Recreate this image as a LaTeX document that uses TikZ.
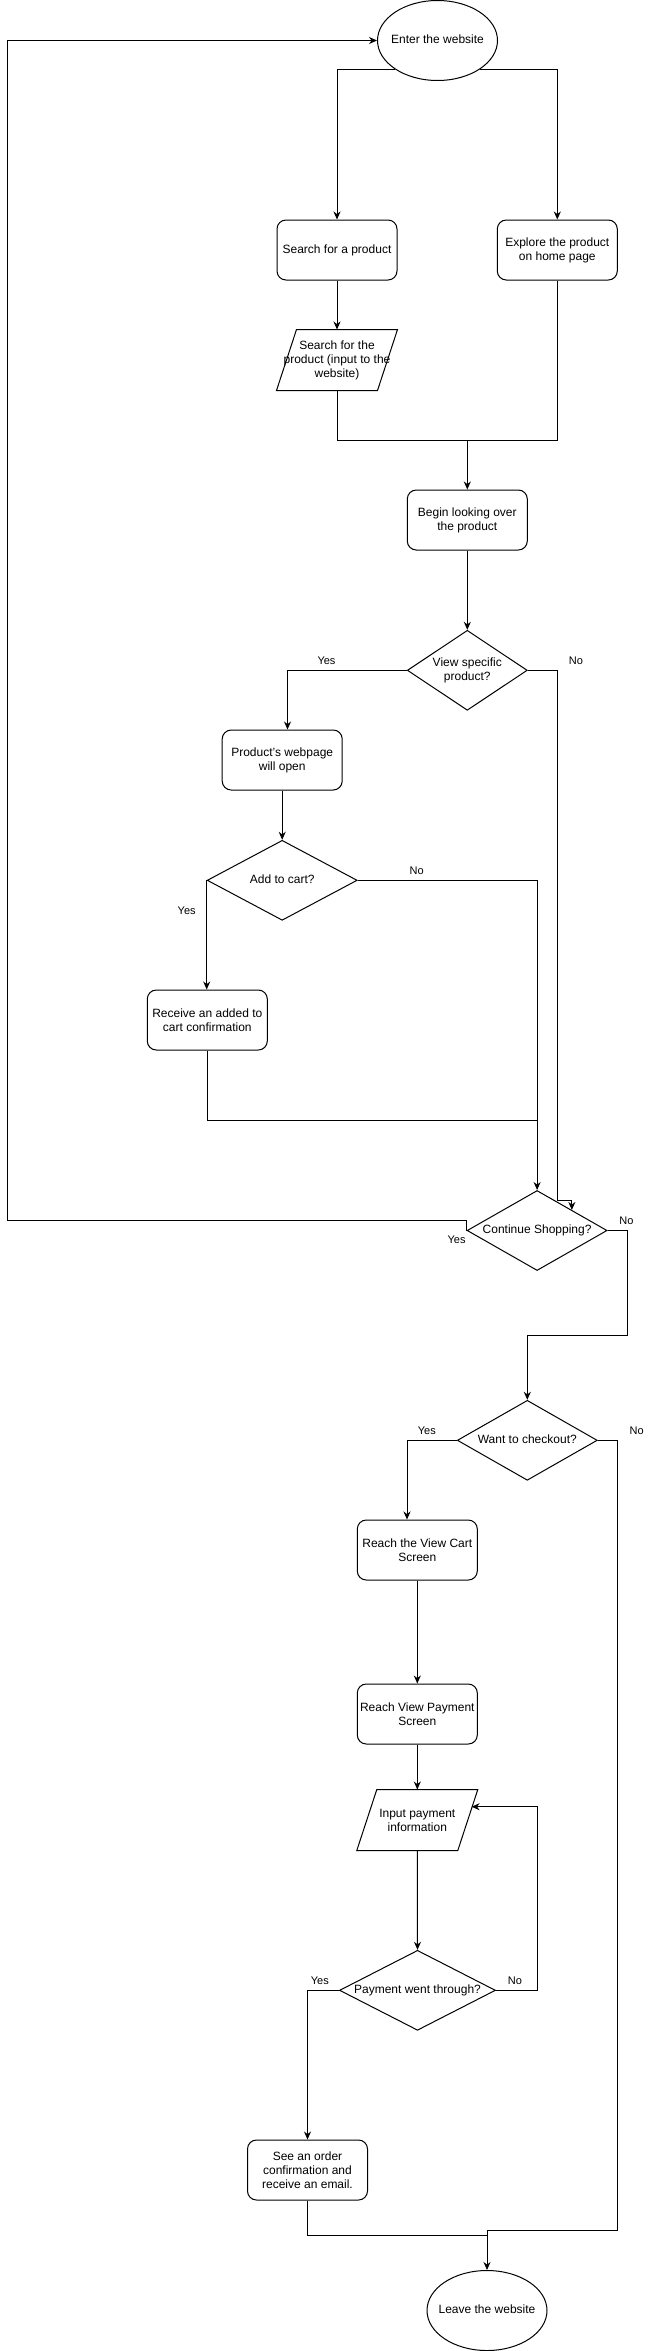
\documentclass[tikz,border=0pt]{standalone}
\usepackage{fontspec}
\setmainfont{Liberation Sans}
\usetikzlibrary{shapes.geometric,arrows.meta,calc}
\newcommand\zb[1]{\makebox[0pt]{\begin{tabular}{@{}c@{}}#1\end{tabular}}}
\begin{document}
\begin{tikzpicture}[x=1pt,y=-1pt, line width=1pt, font=\fontsize{12}{14}\selectfont,
  proc/.style={rectangle, rounded corners=9pt, draw, minimum width=120pt, minimum height=60pt, align=center, inner sep=0pt},
  iobox/.style={rectangle, minimum width=120pt, minimum height=60pt, align=center, inner sep=0pt},
  dec/.style={diamond, draw, inner sep=0pt, minimum height=80pt},
  term/.style={ellipse, draw, minimum width=120pt, minimum height=80pt, inner sep=0pt},
  arr/.style={-{Stealth[length=8pt,width=7pt]}},
  lbl/.style={font=\fontsize{11}{13}\selectfont, inner sep=0pt}]
\useasboundingbox (0,0) rectangle (658,2351);

% nodes
\node[term] (enter) at (437.5,40.5) {\zb{Enter the website}};
\node[proc] (search) at (337,250) {Search for a product};
\node[proc] (explore) at (557.3,250) {Explore the product\\on home page};
\node[iobox] (spara) at (337,360) {Search for the\\product (input to the\\website)};
\draw ([xshift=20pt]spara.north west) -- (spara.north east) -- ([xshift=-20pt]spara.south east) -- (spara.south west) -- cycle;
\node[proc] (begin) at (467.3,520) {Begin looking over\\the product};
\node[dec, minimum width=120pt] (view) at (467.3,670.3) {\zb{View specific\\product?}};
\node[proc] (webpage) at (282.2,760) {Product's webpage\\will open};
\node[dec, minimum width=150pt] (add) at (282.2,880.3) {\zb{Add to cart?}};
\node[proc] (receive) at (207.3,1020) {Receive an added to\\cart confirmation};
\node[dec, minimum width=140pt] (cs) at (537.1,1230.5) {\zb{Continue Shopping?}};
\node[dec, minimum width=140pt] (want) at (527.3,1440.3) {\zb{Want to checkout?}};
\node[proc] (cart) at (417.3,1550) {Reach the View Cart\\Screen};
\node[proc] (pay) at (417.3,1714) {Reach View Payment\\Screen};
\node[iobox] (ipara) at (417.3,1820) {Input payment\\information};
\draw ([xshift=20pt]ipara.north west) -- (ipara.north east) -- ([xshift=-20pt]ipara.south east) -- (ipara.south west) -- cycle;
\node[dec, minimum width=156pt] (pwt) at (417.5,1990.3) {\zb{Payment went through?}};
\node[proc] (order) at (307.5,2170) {See an order\\confirmation and\\receive an email.};
\node[term] (leave) at (487,2310.5) {\zb{Leave the website}};

% labels
\node[lbl] (yes1) at (326.5,660.7) {Yes};
\node[lbl] (no1) at (576,660.7) {No};
\node[lbl] (no2) at (416.7,870.7) {No};
\node[lbl] (yes2) at (186.7,910.7) {Yes};
\node[lbl] (yes3) at (456.6,1240) {Yes};
\node[lbl] (no3) at (626.5,1220.7) {No};
\node[lbl] (yes4) at (426.8,1430.7) {Yes};
\node[lbl] (no4) at (636.6,1430.7) {No};
\node[lbl] (yes5) at (319.8,1980.7) {Yes};
\node[lbl] (no5) at (515,1980.7) {No};

% helper coordinates
\coordinate (j1) at (467.3,440);
\coordinate (j1r) at (557.3,440);
\coordinate (vn1) at (557.3,1200);
\coordinate (csin) at ($(cs.north)!0.493!(cs.east)$);
\coordinate (j2) at (537.1,1120);
\coordinate (l1) at (7.6,1220);
\coordinate (r1) at (627.4,1335);
\coordinate (r2) at (617.3,2230);
\coordinate (n1) at (537.6,1806.7);
\coordinate (ipin) at (471.6,1806.7);
\coordinate (j3) at (487,2235.3);

% connectors
\draw[arr] (enter.south west) -| (search.north);
\draw[arr] (enter.south east) -| (explore.north);
\draw[arr] (search.south) -- (spara.north);
\draw (spara.south) |- (j1r) -- (explore.south);
\draw[arr] (j1) -- (begin.north);
\draw[arr] (begin.south) -- (view.north);
\draw[arr] (view.west) -| ([xshift=5.3pt]webpage.north);
\draw[arr] (view.east) -| (vn1) -| (csin);
\draw[arr] (webpage.south) -- (add.north);
\draw[arr] (add.west) -- (add.west |- receive.north);
\draw[arr] (add.east) -| (cs.north);
\draw (receive.south) |- (j2);
\draw[arr] (cs.west) |- (l1) |- (enter.west);
\draw[arr] (cs.east) -| (r1) -| (want.north);
\draw[arr] (want.west) -| ([xshift=-10.3pt]cart.north);
\draw[arr] (want.east) -| (r2) -| (leave.north);
\draw[arr] (cart.south) -- (pay.north);
\draw[arr] (pay.south) -- (ipara.north);
\draw[arr] (ipara.south) -- (pwt.north);
\draw[arr] (pwt.west) -| (order.north);
\draw[arr] (pwt.east) -| (n1) -- (ipin);
\draw (order.south) |- (j3);
\end{tikzpicture}
\end{document}
